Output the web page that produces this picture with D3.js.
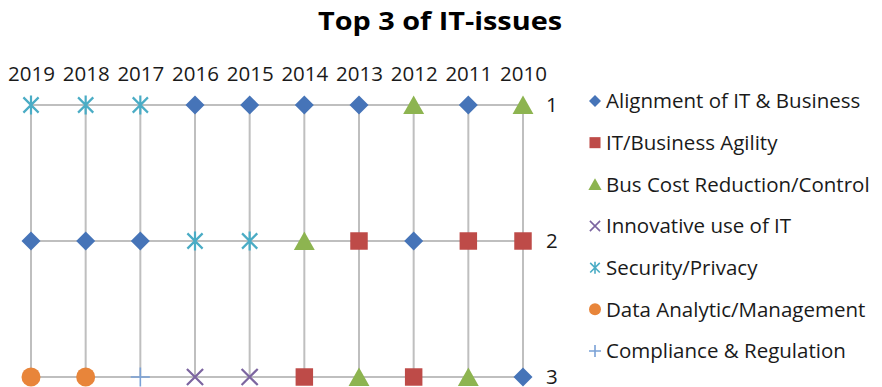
<!DOCTYPE html>
<html><head><meta charset="utf-8">
<script src="https://cdnjs.cloudflare.com/ajax/libs/d3/7.8.5/d3.min.js"></script>
<style>html,body{margin:0;padding:0;background:#fff}svg{display:block}</style>
</head><body>
<svg id="chart" width="882" height="387"></svg>
<script>
const years = [2019, 2018, 2017, 2016, 2015, 2014, 2013, 2012, 2011, 2010];
const ranks = [1, 2, 3];
const seriesNames = ["Alignment of IT & Business","IT/Business Agility","Bus Cost Reduction/Control","Innovative use of IT","Security/Privacy","Data Analytic/Management","Compliance & Regulation"];
// rank of each issue per year (null = not in top 3)
const alignment  = [2, 2, 2, 1, 1, 1, 1, 2, 1, 3];
const agility    = [null, null, null, null, null, 3, 2, 3, 2, 2];
const busCost    = [null, null, null, null, null, 2, 3, 1, 3, 1];
const innovative = [null, null, null, 3, 3, null, null, null, null, null];
const security   = [1, 1, 1, 2, 2, null, null, null, null, null];
const dataAnalytic = [3, 3, null, null, null, null, null, null, null, null];
const compliance = [null, null, 3, null, null, null, null, null, null, null];

const seriesValues = [alignment, agility, busCost, innovative, security, dataAnalytic, compliance];
const colors = ["#4674b8", "#be4b48", "#8db450", "#7c65a0", "#4aacc5", "#e8853a", "#7aa1d6"];
const shapes = ["diamond", "square", "triangle", "x", "asterisk", "circle", "plus"];

const svg = d3.select("#chart");
const font = "'Open Sans', sans-serif";

const x = d3.scalePoint().domain(years).range([31, 523]);
const y = d3.scaleLinear().domain([1, 3]).range([105, 377]);

// title
svg.append("text").attr("x", 440).attr("y", 30).attr("text-anchor", "middle")
  .attr("font-family", font).attr("font-weight", "bold").attr("font-size", 25)
  .attr("textLength", 244).attr("lengthAdjust", "spacingAndGlyphs")
  .attr("fill", "#000").text("Top 3 of IT-issues");

// grid
const g = svg.append("g");
g.selectAll("line.v").data(years).join("line")
  .attr("x1", d => x(d)).attr("x2", d => x(d))
  .attr("y1", y(1)).attr("y2", y(3))
  .attr("stroke", "#bfbfbf").attr("stroke-width", 2);
g.selectAll("line.h").data(ranks).join("line")
  .attr("x1", x(years[0])).attr("x2", x(years[years.length - 1]))
  .attr("y1", d => y(d)).attr("y2", d => y(d))
  .attr("stroke", "#bfbfbf").attr("stroke-width", 2);

// top axis (years)
const xAxis = d3.axisTop(x).tickSize(0).tickPadding(0);
const xa = svg.append("g").attr("transform", "translate(0,81)").call(xAxis);
xa.select(".domain").remove();
xa.selectAll("text").attr("font-family", font).attr("font-size", 20.5).attr("fill", "#1a1a1a");

// right axis (ranks)
const yAxis = d3.axisRight(y).tickValues(ranks).tickFormat(d3.format("d")).tickSize(0).tickPadding(0);
const ya = svg.append("g").attr("transform", "translate(546,0)").call(yAxis);
ya.select(".domain").remove();
ya.selectAll("text").attr("font-family", font).attr("font-size", 20.5).attr("fill", "#1a1a1a").attr("dy", "0.3em");

function drawMarker(sel, shape, color, s) {
  const h = s / 2;
  if (shape === "diamond") {
    sel.append("path").attr("d", `M0,${-h}L${h},0L0,${h}L${-h},0Z`).attr("fill", color);
  } else if (shape === "square") {
    const q = h * 0.92;
    sel.append("rect").attr("x", -q).attr("y", -q).attr("width", 2 * q).attr("height", 2 * q).attr("fill", color);
  } else if (shape === "triangle") {
    const w = h * 1.1;
    sel.append("path").attr("d", `M0,${-h}L${w},${h * 0.95}L${-w},${h * 0.95}Z`).attr("fill", color);
  } else if (shape === "circle") {
    sel.append("circle").attr("r", h).attr("fill", color);
  } else if (shape === "x") {
    const q = h * 0.85;
    sel.append("path").attr("d", `M${-q},${-q}L${q},${q}M${-q},${q}L${q},${-q}`)
      .attr("stroke", color).attr("stroke-width", s > 14 ? 2.2 : 1.6).attr("fill", "none");
  } else if (shape === "asterisk") {
    const q = h * 0.8;
    sel.append("path").attr("d", `M${-q},${-q}L${q},${q}M${-q},${q}L${q},${-q}M0,${-h}L0,${h}`)
      .attr("stroke", color).attr("stroke-width", s > 14 ? 2.2 : 1.6).attr("fill", "none");
  } else if (shape === "plus") {
    sel.append("path").attr("d", `M${-h},0L${h},0M0,${-h}L0,${h}`)
      .attr("stroke", color).attr("stroke-width", 1.6).attr("fill", "none");
  }
}

// markers
seriesValues.forEach((vals, i) => {
  vals.forEach((v, j) => {
    if (v == null) return;
    const m = svg.append("g").attr("transform", `translate(${x(years[j])},${y(v)})`);
    drawMarker(m, shapes[i], colors[i], 19);
  });
});

// legend
const legendY = d3.scalePoint().domain(seriesNames).range([101, 351]);
seriesNames.forEach((name, i) => {
  const lg = svg.append("g").attr("transform", `translate(0,${legendY(name)})`);
  const m = lg.append("g").attr("transform", "translate(595,0)");
  drawMarker(m, shapes[i], colors[i], 12);
  lg.append("text").attr("x", 606).attr("y", 0).attr("dy", "0.35em")
    .attr("font-family", font).attr("font-size", 20.5).attr("fill", "#1a1a1a").text(name);
});
</script>
</body></html>
